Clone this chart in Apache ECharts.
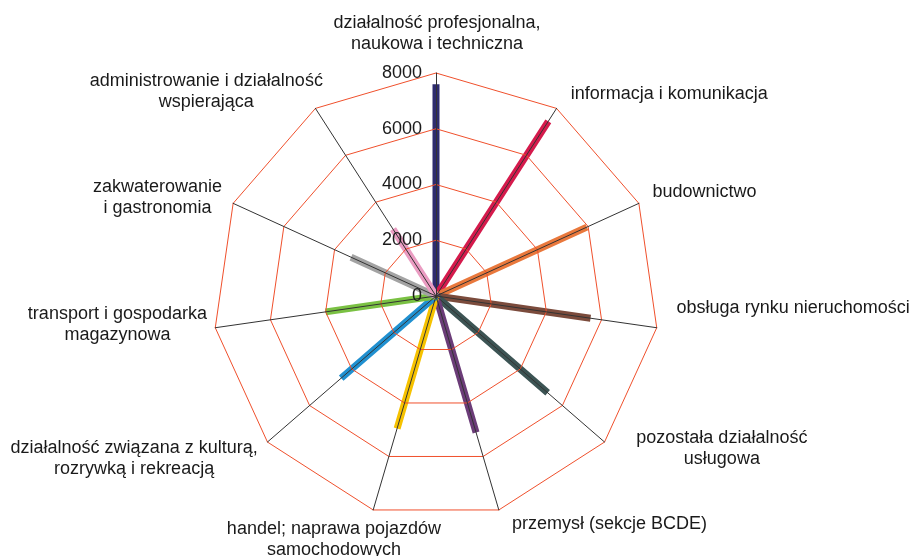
<!DOCTYPE html>
<html>
<head>
<meta charset="utf-8">
<script src="https://cdn.jsdelivr.net/npm/echarts@6/dist/echarts.min.js"></script>
<style>
	html, body { margin: 0; padding: 0; background: #fff; }
	#main { width: 914px; height: 556px; }
</style>
</head>
<body>
<div id="main"></div>
<script>
	// kategorie, zgodnie z ruchem wskazówek zegara od góry
	let categories = [
		'działalność profesjonalna,\nnaukowa i techniczna',
		'informacja i komunikacja',
		'budownictwo',
		'obsługa rynku nieruchomości',
		'pozostała działalność\nusługowa',
		'przemysł (sekcje BCDE)',
		'handel; naprawa pojazdów\nsamochodowych',
		'działalność związana z kulturą,\nrozrywką i rekreacją',
		'transport i gospodarka\nmagazynowa',
		'zakwaterowanie\ni gastronomia',
		'administrowanie i działalność\nwspierająca'
	];
	let values = [7600, 7450, 5950, 5600, 5300, 5100, 4950, 4500, 4000, 3350, 2850];
	let colors = ['#2d2b6e', '#d51a4c', '#e9783c', '#7b4b3c', '#3c5454', '#6b3c78', '#f6c200', '#2090d0', '#7ac143', '#a3a3a3', '#ea9cc2'];
	let ticks = [0, 2000, 4000, 6000, 8000];

	// przesunięcia etykiet względem końca osi (dx, dy, wyrównanie)
	let labelPos = [
		[1, -24, 'center'], [6, -2, 'left'], [0, -5, 'left'], [5, -22, 'left'],
		[106, -3, 'center'], [9, 0, 'left'], [-35, 15, 'center'], [-122, 7, 'center'],
		[-83, -5, 'center'], [-62, 0, 'center'], [-101, -4, 'center']
	];

	let cx = 436, cy = 296, radius = 223;
	let n = categories.length;
	let maxV = ticks[ticks.length - 1];

	// echarts rysuje radar przeciwnie do wskazówek zegara - odwracamy kolejność
	let order = categories.map((c, i) => (n - i) % n);

	let indicator = order.map((k, i) => {
		let ind = { name: '', max: maxV, min: 0 };
		if (i === 0) {
			ind.axisLabel = { show: true };
		}
		return ind;
	});

	let series = categories.map((c, k) => {
		let arr = order.map(j => (j === k ? values[k] : 0));
		return {
			type: 'radar',
			name: c,
			z: 2,
			symbol: 'none',
			silent: true,
			lineStyle: { color: colors[k], width: 7, join: 'bevel', cap: 'butt' },
			areaStyle: null,
			emphasis: { disabled: true },
			data: [{ value: arr }]
		};
	});

	let font = '18px "Liberation Sans", Arial, sans-serif';
	let graphic = categories.map((c, k) => {
		let a = k * 2 * Math.PI / n;
		let r = radius + 15;
		return {
			type: 'text',
			x: cx + r * Math.sin(a) + labelPos[k][0],
			y: cy - r * Math.cos(a) + labelPos[k][1],
			silent: true,
			style: {
				text: c,
				font: font,
				fill: '#1a1a1a',
				align: labelPos[k][2],
				verticalAlign: 'middle',
				lineHeight: 21
			}
		};
	});

	let chart = echarts.init(document.getElementById('main'));
	chart.setOption({
		animation: false,
		backgroundColor: '#fff',
		radar: {
			center: [cx, cy],
			radius: radius,
			z: 5,
			startAngle: 90,
			shape: 'polygon',
			splitNumber: ticks.length - 1,
			indicator: indicator,
			axisName: { show: false },
			axisLine: { lineStyle: { color: '#333', width: 1 } },
			splitLine: { lineStyle: { color: '#f0502c', width: 1 } },
			splitArea: { show: false },
			axisTick: { show: false },
			axisLabel: {
				show: false,
				color: '#1a1a1a',
				fontSize: 18,
				fontFamily: '"Liberation Sans", Arial, sans-serif',
				margin: 14,
				formatter: v => String(v)
			}
		},
		graphic: graphic,
		series: series
	});
</script>
</body>
</html>
